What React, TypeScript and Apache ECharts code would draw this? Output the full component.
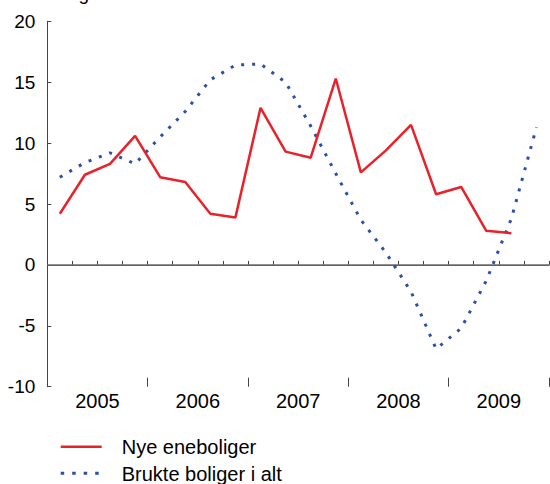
import React, { useEffect, useRef } from "react";
import * as echarts from "echarts";

const years = ["2005", "2006", "2007", "2008", "2009"];
const quarters = years.flatMap((y) => ["K1", "K2", "K3", "K4"].map((q) => `${y}${q}`));

const seriesNames = ["Nye eneboliger", "Brukte boliger i alt"];

const nyeEneboliger: (number | null)[] = [
  4.2, 7.4, 8.3, 10.6, 7.2, 6.8, 4.2, 3.9, 12.9, 9.3, 8.8, 15.3, 7.6, 9.4, 11.5, 5.8, 6.4, 2.8, 2.6, null,
];
const brukteBoliger: number[] = [
  7.2, 8.4, 9.2, 8.3, 10.5, 12.6, 15.2, 16.4, 16.5, 15.0, 11.4, 7.5, 3.7, 1.0, -2.2, -6.9, -5.2, -1.3, 3.8, 11.3,
];

const yMin = -10;
const yMax = 20;
const yStep = 5;

const FONT = "'Liberation Sans', Arial, sans-serif";
const RED = "#e8222a";
const BLUE = "#2b4ea8";

export default function App() {
  const ref = useRef<HTMLDivElement>(null);
  useEffect(() => {
    if (!ref.current) return;
    const chart = echarts.init(ref.current, undefined, { renderer: "svg" });
    const axisColor = "#444";
    chart.setOption({
      animation: false,
      textStyle: { fontFamily: FONT },
      grid: { left: 47.3, right: 1, top: 21.3, bottom: 97.3, containLabel: false },
      graphic: [
        {
          type: "text",
          x: 89,
          y: 3,
          style: {
            text: "Endring",
            textAlign: "right",
            textVerticalAlign: "bottom",
            font: `19px ${FONT}`,
            fill: "#000",
          },
        },
        {
          type: "line",
          shape: { x1: 60.7, y1: 446.7, x2: 101.7, y2: 446.7 },
          style: { stroke: RED, lineWidth: 2.5 },
        },
        {
          type: "text",
          x: 121.7,
          y: 447,
          style: {
            text: seriesNames[0],
            textAlign: "left",
            textVerticalAlign: "middle",
            font: `20px ${FONT}`,
            fill: "#000",
          },
        },
        {
          type: "line",
          shape: { x1: 60.7, y1: 473.3, x2: 101.7, y2: 473.3 },
          style: { stroke: BLUE, lineWidth: 3, lineDash: [3.5, 8] },
        },
        {
          type: "text",
          x: 121.7,
          y: 473.5,
          style: {
            text: seriesNames[1],
            textAlign: "left",
            textVerticalAlign: "middle",
            font: `20px ${FONT}`,
            fill: "#000",
          },
        },
      ],
      xAxis: [
        {
          type: "category",
          data: quarters,
          position: "bottom",
          boundaryGap: true,
          axisLine: { show: true, lineStyle: { color: axisColor, width: 1 } },
          axisTick: { show: true, inside: true, length: 4, interval: 0, lineStyle: { color: axisColor } },
          axisLabel: { show: false },
          splitLine: { show: false },
        },
        {
          type: "category",
          data: years,
          position: "bottom",
          boundaryGap: true,
          axisLine: { show: false },
          axisTick: { show: true, inside: true, length: 9, interval: 0, lineStyle: { color: axisColor } },
          axisLabel: { show: true, interval: 0, fontSize: 20, color: "#000", margin: 4, fontFamily: FONT },
          splitLine: { show: false },
        },
      ],
      yAxis: {
        type: "value",
        min: yMin,
        max: yMax,
        interval: yStep,
        axisLine: { show: true, lineStyle: { color: axisColor, width: 1 } },
        axisTick: { show: true, inside: true, length: 4, lineStyle: { color: axisColor } },
        axisLabel: { fontSize: 19, color: "#000", margin: 12, fontFamily: FONT },
        splitLine: { show: false },
      },
      series: [
        {
          name: seriesNames[0],
          type: "line",
          xAxisIndex: 0,
          data: nyeEneboliger,
          symbol: "none",
          showSymbol: false,
          lineStyle: { color: RED, width: 2.5 },
          itemStyle: { color: RED },
          z: 3,
          markLine: {
            silent: true,
            symbol: ["none", "none"],
            label: { show: false },
            lineStyle: { color: "#6b6b6b", width: 1.5, type: "solid" },
            data: [{ yAxis: 0 }],
            z: 1,
          },
        },
        {
          name: seriesNames[1],
          type: "line",
          xAxisIndex: 0,
          data: brukteBoliger,
          symbol: "none",
          showSymbol: false,
          lineStyle: { color: BLUE, width: 3, type: [3, 8] },
          itemStyle: { color: BLUE },
          z: 2,
        },
      ],
    });
    return () => chart.dispose();
  }, []);
  return (
    <div
      ref={ref}
      style={{ position: "fixed", left: 0, top: 0, width: 550, height: 484, background: "#fff" }}
    />
  );
}
